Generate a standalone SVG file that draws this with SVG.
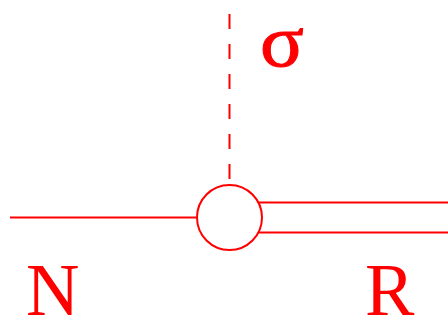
<svg xmlns="http://www.w3.org/2000/svg" width="448" height="326" viewBox="0 0 448 326">
<style>
.ln{stroke:#ff0000;stroke-width:2;fill:none}
.lbl{font-family:"Liberation Serif","Times New Roman",serif;fill:#ff0000;font-size:74px}
</style>
<rect width="448" height="326" fill="#ffffff"/>
<g id="connectors">
<line class="ln" x1="229.5" y1="14" x2="229.5" y2="184" stroke-dasharray="15,15"/>
<line class="ln" x1="10" y1="217.5" x2="197" y2="217.5"/>
<line class="ln" x1="258" y1="202.5" x2="448" y2="202.5"/>
<line class="ln" x1="258" y1="232.5" x2="448" y2="232.5"/>
</g>
<g id="vertex">
<circle class="ln" cx="229.5" cy="217.5" r="32.5" fill="#ffffff"/>
</g>
<g id="labels">
<text class="lbl" transform="translate(260,66) scale(1.1,1)" x="0" y="0" stroke="#ff0000" stroke-width="1">σ</text>
<text class="lbl" x="26" y="315">N</text>
<text class="lbl" x="365" y="315">R</text>
</g>
</svg>
